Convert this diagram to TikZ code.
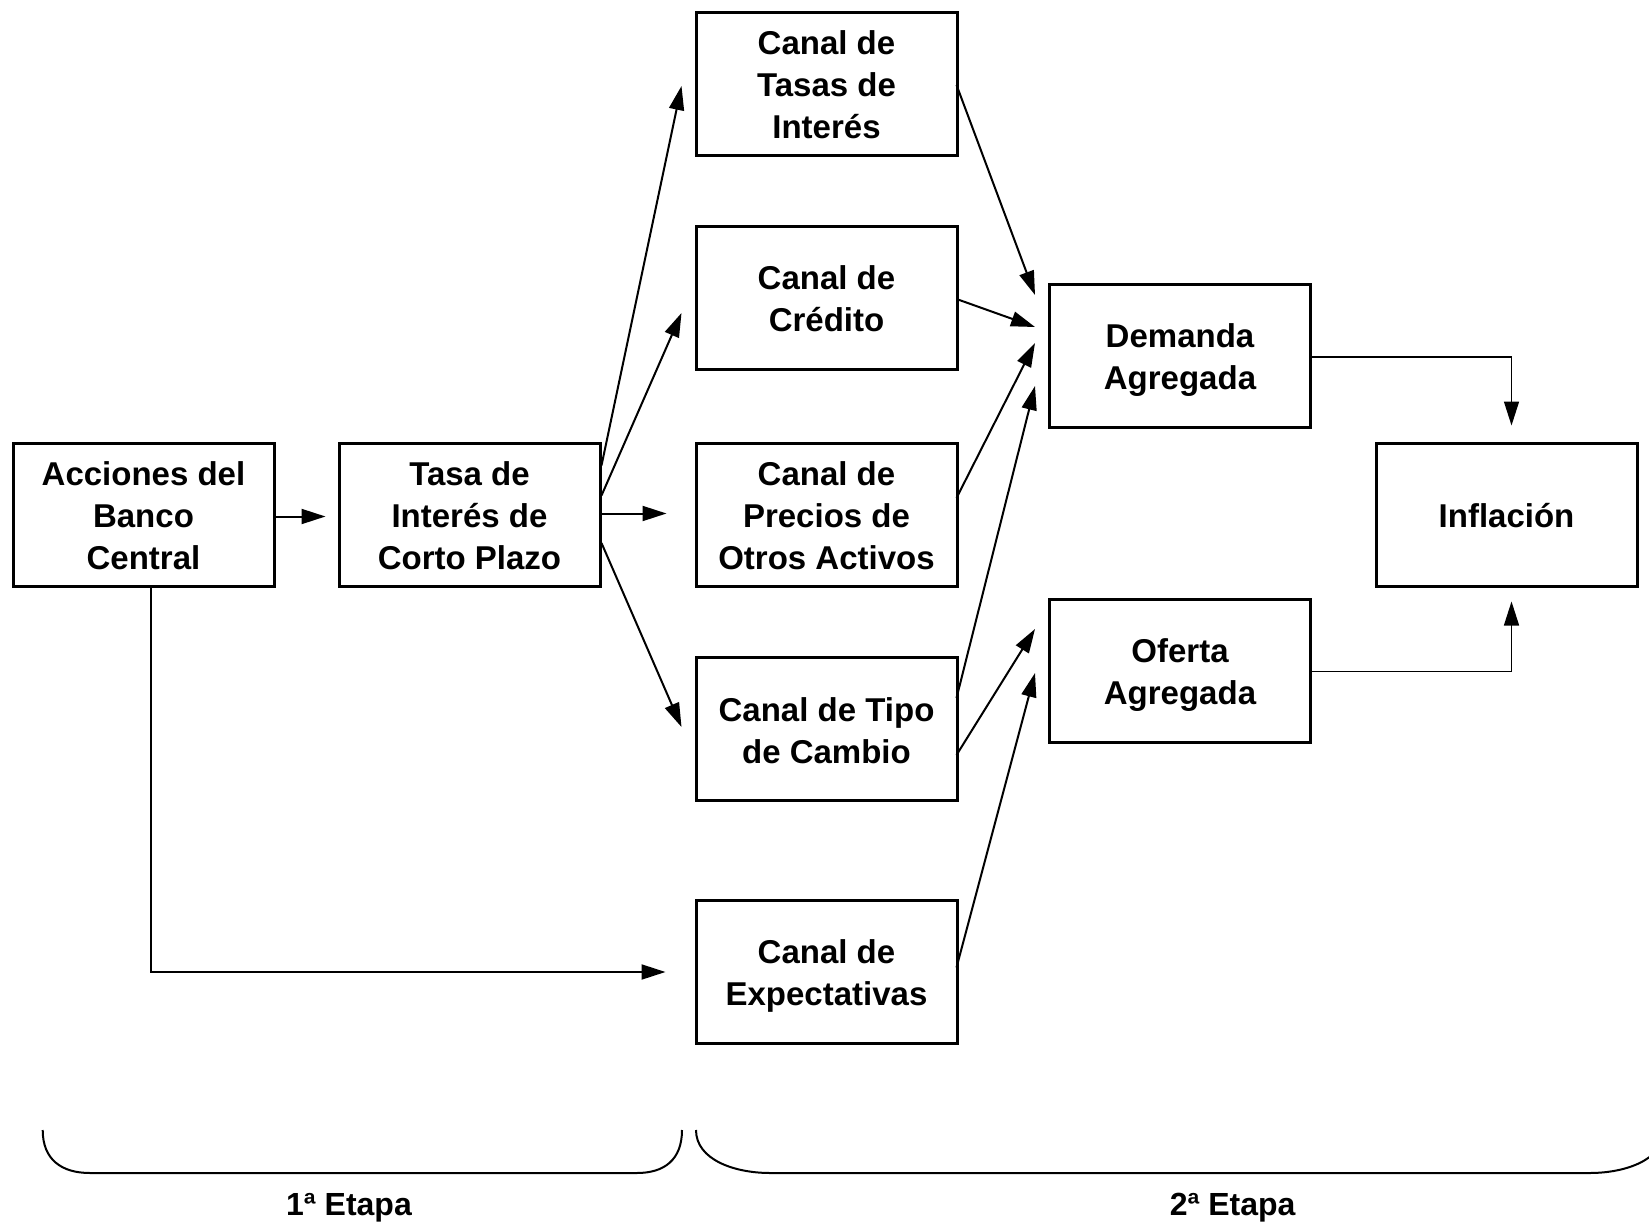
\documentclass[tikz,border=0pt]{standalone}
\usepackage{fontspec}
\setmainfont{Liberation Sans}
\usetikzlibrary{arrows.meta,calc}
\newcommand{\boxtext}[1]{\raisebox{-4.6pt}[\height][\depth]{\begin{tabular}{@{}c@{}}#1\end{tabular}}}
\begin{document}
\begin{tikzpicture}[x=1pt,y=-1pt,
  box/.style={draw, line width=3pt, minimum width=261pt, minimum height=143pt,
    inner sep=0pt, font=\fontsize{33}{42}\selectfont\bfseries},
  arr/.style={line width=2pt, -{Triangle[length=24pt,width=15pt]}},
  thinarr/.style={line width=1.5pt, -{Triangle[length=24pt,width=15pt]}},
  bracestyle/.style={line width=2pt},
  lbl/.style={font=\fontsize{32}{38}\selectfont\bfseries, inner sep=0pt}]
\path[use as bounding box, clip] (0,0) rectangle (1649,1222);

\node[box] (acc)  at (143.5,514.5) {\boxtext{Acciones del\\Banco\\Central}};
\node[box] (tasa) at (469.5,514.5) {\boxtext{Tasa de\\Interés de\\Corto Plazo}};
\node[box] (ctas) at (826.5,84)    {\boxtext{Canal de\\Tasas de\\Interés}};
\node[box] (ccre) at (826.5,298)   {\boxtext{Canal de\\Crédito}};
\node[box] (cpre) at (826.5,514.5) {\boxtext{Canal de\\Precios de\\Otros Activos}};
\node[box] (ctip) at (826.5,729)   {\boxtext{Canal de Tipo\\de Cambio}};
\node[box] (cexp) at (826.5,971.5) {\boxtext{Canal de\\Expectativas}};
\node[box] (dem)  at (1180,356)    {\boxtext{Demanda\\Agregada}};
\node[box] (ofe)  at (1180,670.5)  {\boxtext{Oferta\\Agregada}};
\node[box] (inf)  at (1506.5,514.5) {\boxtext{Inflación}};

% first stage
\draw[arr] ($(acc.east)+(0,2)$) -- ($(tasa.west)+(-12,2)$);
\draw[arr] ($(tasa.north east)+(0,24)$) -- ($(ctas.west)+(-13,2)$);
\draw[arr] ($(tasa.north east)+(0,54)$) -- ($(ccre.west)+(-13,15)$);
\draw[arr] ($(tasa.east)+(0,-1)$) -- ($(cpre.west)+(-28,-1)$);
\draw[arr] ($(tasa.east)+(0,28.5)$) -- ($(ctip.west)+(-13,-2)$);
\draw[arr] ($(acc.south)+(7.5,0)$) |- ($(cexp.west)+(-29,0.5)$);

% second stage
\draw[arr] ($(ctas.east)+(-2,1)$) -- ($(dem.north west)+(-13,12)$);
\draw[arr] ($(ccre.east)+(-2,1)$) -- ($(dem.west)+(-13,-29)$);
\draw[arr] ($(cpre.east)+(-2,-16.5)$) -- ($(dem.west)+(-13,-13)$);
\draw[arr] ($(ctip.east)+(-2,-31)$) -- ($(dem.west)+(-13,30)$);
\draw[arr] ($(ctip.east)+(-2,26)$) -- ($(ofe.west)+(-13,-41.5)$);
\draw[arr] ($(cexp.east)+(-2,-4)$) -- ($(ofe.west)+(-13,2.5)$);

\draw[thinarr] ($(dem.east)+(-2,1)$) -| ($(inf.north)+(5,-16)$);
\draw[thinarr] ($(ofe.east)+(-2,1)$) -| ($(inf.south)+(5,14)$);

% braces
\draw[bracestyle] (42.7,1130) .. controls (42.7,1160) and (62,1173) .. (90,1173)
  -- (637,1173) .. controls (664,1173) and (682,1160) .. (682,1130);
\draw[bracestyle] (696,1130) .. controls (696,1160) and (735,1173) .. (770,1173)
  -- (1590,1173) .. controls (1625,1173) and (1664,1160) .. (1664,1130);

\node[lbl] (et1) at (349,1208) {1ª Etapa};
\node[lbl] (et2) at (1232.6,1208) {2ª Etapa};
\end{tikzpicture}
\end{document}
